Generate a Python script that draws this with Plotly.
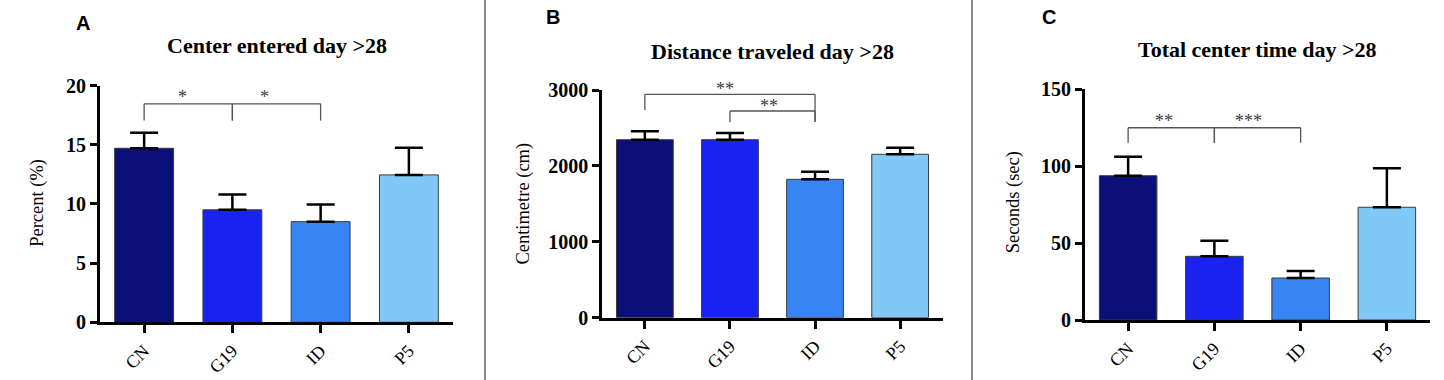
import plotly.graph_objects as go

W, H = 1444, 380

categories = ["CN", "G19", "ID", "P5"]
bar_colors = ["#0b0f78", "#1a22f0", "#3784f5", "#80c8f5"]

# Panel A: Center entered day >28 (percent)
a_values = [14.7, 9.5, 8.5, 12.45]
a_errors = [1.3, 1.3, 1.45, 2.3]
a_ticks = [0, 5, 10, 15, 20]
# brackets: (x_left, x_right, y_top, y_left_end, y_right_end)
a_brackets = [(0, 1, 18.45, 17.05, 17.05), (1, 2, 18.45, 17.05, 17.05)]
a_stars = [("*", 0.43, 19.0), ("*", 1.36, 19.0)]

# Panel B: Distance traveled day >28 (cm)
b_values = [2345, 2345, 1823, 2153]
b_errors = [110, 88, 100, 87]
b_ticks = [0, 1000, 2000, 3000]
b_brackets = [(0, 2, 2943, 2736, 2582), (1, 2, 2723, 2574, 2582)]
b_stars = [("**", 0.94, 3017), ("**", 1.46, 2790)]

# Panel C: Total center time day >28 (sec)
c_values = [93.8, 41.4, 27.3, 73.3]
c_errors = [12.4, 10.2, 4.6, 25.3]
c_ticks = [0, 50, 100, 150]
c_brackets = [(0, 1, 125.0, 115.3, 115.3), (1, 2, 125.0, 115.3, 115.3)]
c_stars = [("**", 0.42, 129.6), ("***", 1.39, 129.6)]

panels = [
    dict(letter="A", title="Center entered day >28", ytitle="Percent (%)",
         values=a_values, errors=a_errors, ticks=a_ticks, brackets=a_brackets, stars=a_stars,
         px_x=(100, 453), px_y=(322.3, 85.5), letter_xy=(83.3, 22.7), title_y=45.7,
         ytitle_xy=(37.5, 203.3)),
    dict(letter="B", title="Distance traveled day >28", ytitle="Centimetre (cm)",
         values=b_values, errors=b_errors, ticks=b_ticks, brackets=b_brackets, stars=b_stars,
         px_x=(602.3, 942.7), px_y=(317.7, 90), letter_xy=(553, 17.3), title_y=51.7,
         ytitle_xy=(523.3, 203.3)),
    dict(letter="C", title="Total center time day >28", ytitle="Seconds (sec)",
         values=c_values, errors=c_errors, ticks=c_ticks, brackets=c_brackets, stars=c_stars,
         px_x=(1085, 1430), px_y=(320, 89.3), letter_xy=(1048.8, 17.5), title_y=49,
         ytitle_xy=(1013.8, 202.5)),
]

SERIF = "Liberation Serif"
fig = go.Figure()
shapes = []
annotations = []

for i, p in enumerate(panels):
    n = "" if i == 0 else str(i + 1)
    xa, ya = "x" + n, "y" + n
    fig.add_trace(go.Bar(
        x=categories, y=p["values"], xaxis=xa, yaxis=ya,
        marker=dict(color=bar_colors, line=dict(color="#3a3a3a", width=1)),
        width=0.667,
        error_y=dict(type="data", array=p["errors"], arrayminus=[0] * 4, symmetric=False,
                     color="black", thickness=2.5, width=14),
        showlegend=False, hoverinfo="skip",
    ))
    x0, x1 = p["px_x"]
    yb, yt = p["px_y"]
    ymin, ymax = p["ticks"][0], p["ticks"][-1]
    fig.layout["xaxis" + n] = dict(
        domain=[x0 / W, x1 / W], anchor=ya, range=[-0.5, 3.5], automargin=False,
        showline=True, linecolor="black", linewidth=3, ticks="outside", ticklen=8,
        tickwidth=3, tickcolor="black", tickangle=-45, showgrid=False, zeroline=False,
        tickfont=dict(family=SERIF, size=18, color="black"), fixedrange=True,
    )
    fig.layout["yaxis" + n] = dict(
        domain=[1 - yb / H, 1 - yt / H], anchor=xa, range=[ymin, ymax], automargin=False,
        tickvals=p["ticks"], showline=True, linecolor="black", linewidth=3,
        ticks="outside", ticklen=7, tickwidth=3, tickcolor="black", showgrid=False,
        zeroline=False, tickfont=dict(family=SERIF, size=20, color="black", weight="bold"),
        fixedrange=True,
    )
    for (bl, br, ytop, yl, yr) in p["brackets"]:
        for seg in [(bl, yl, bl, ytop), (bl, ytop, br, ytop), (br, ytop, br, yr)]:
            shapes.append(dict(type="line", xref=xa, yref=ya, x0=seg[0], y0=seg[1],
                               x1=seg[2], y1=seg[3], line=dict(color="#555555", width=1.3)))
    for (txt, sx, sy) in p["stars"]:
        annotations.append(dict(text=txt, x=sx, y=(sy - ymin) / (ymax - ymin),
                                xref=xa, yref=ya + " domain", showarrow=False,
                                font=dict(family=SERIF, size=18, color="#3a3a3a"),
                                xanchor="center", yanchor="middle"))
    annotations.append(dict(text=p["letter"], x=p["letter_xy"][0] / W, y=1 - p["letter_xy"][1] / H,
                            xref="paper", yref="paper", showarrow=False, xanchor="center",
                            yanchor="middle",
                            font=dict(family="Liberation Sans", size=20, color="black", weight="bold")))
    annotations.append(dict(text=p["title"], x=(x0 + x1) / 2 / W, y=1 - p["title_y"] / H,
                            xref="paper", yref="paper", showarrow=False, xanchor="center",
                            yanchor="middle",
                            font=dict(family=SERIF, size=22, color="black", weight="bold")))
    annotations.append(dict(text=p["ytitle"], x=p["ytitle_xy"][0] / W, y=1 - p["ytitle_xy"][1] / H,
                            xref="paper", yref="paper", showarrow=False, xanchor="center",
                            yanchor="middle", textangle=-90,
                            font=dict(family=SERIF, size=18.5, color="black")))

# panel separators
for sx in [485, 972]:
    shapes.append(dict(type="line", xref="paper", yref="paper", x0=sx / W, x1=sx / W, y0=0, y1=1,
                       line=dict(color="#8a8a8a", width=2)))

fig.update_layout(
    width=W, height=H, margin=dict(l=0, r=0, t=0, b=0, pad=0, autoexpand=False),
    paper_bgcolor="white", plot_bgcolor="white",
    shapes=shapes, annotations=annotations, bargap=1 / 3,
)

fig.write_html("out.html", config={"displayModeBar": False},
               post_script="document.body.style.margin='0';document.body.style.overflow='hidden';")
